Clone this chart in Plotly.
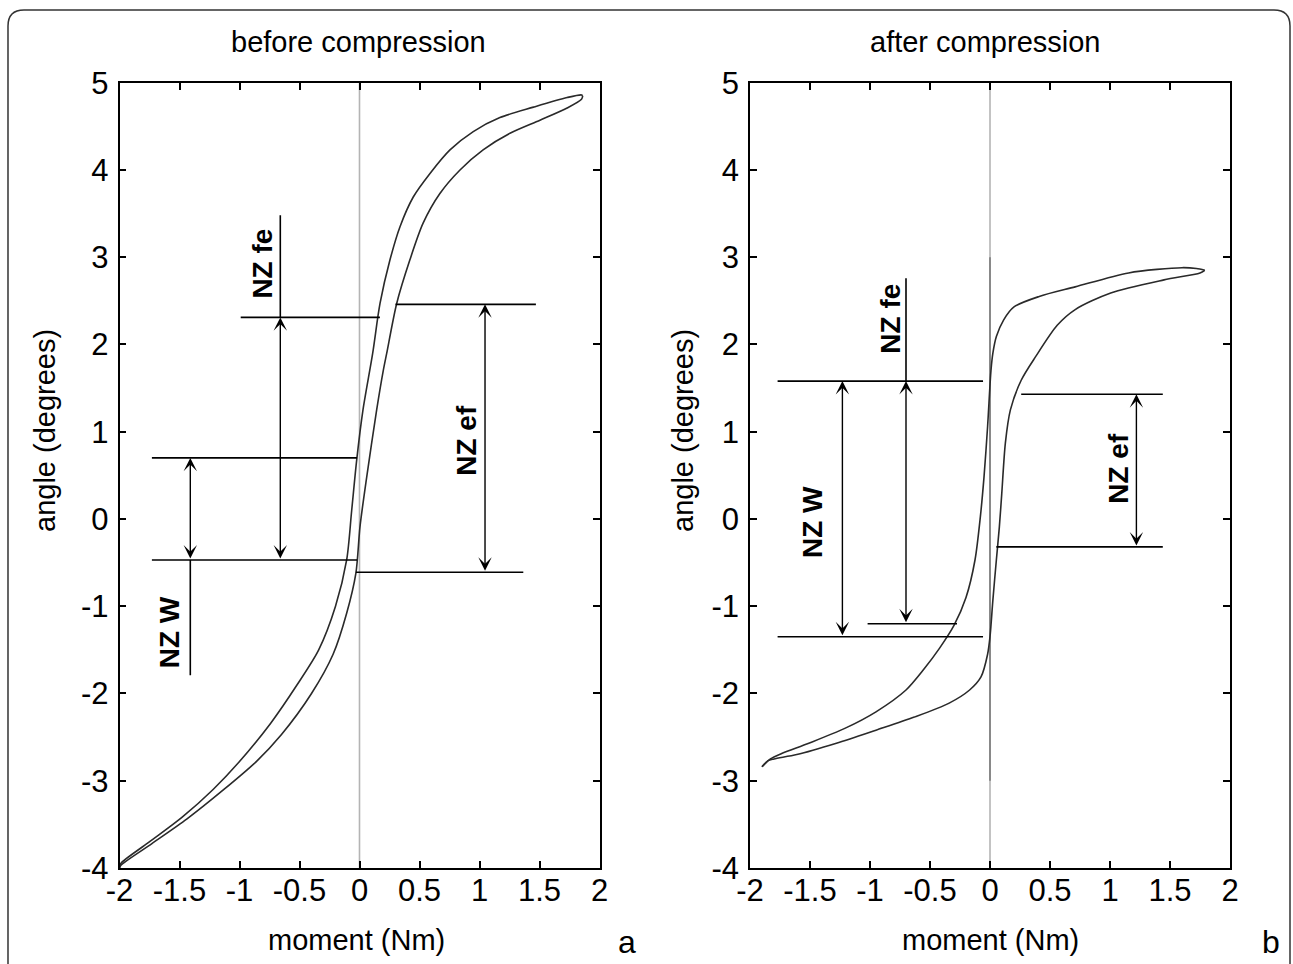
import plotly.graph_objects as go

# ---------------- data ----------------
# Panel a (before compression): loading branch (lower/right) and unloading branch (upper/left)
a_load_x = [-2.0, -1.99, -1.73, -1.44, -1.13, -0.86, -0.65, -0.40, -0.22, -0.107, -0.03, 0.004, 0.06, 0.143, 0.198, 0.227, 0.31, 0.42, 0.53, 0.67, 0.8375, 1.03, 1.254, 1.504, 1.73, 1.85, 1.86]
a_load_y = [-4.0, -3.97, -3.72, -3.44, -3.10, -2.78, -2.47, -2.00, -1.55, -1.08, -0.62, -0.09, 0.48, 1.25, 1.70, 1.90, 2.47, 2.97, 3.39, 3.73, 4.00, 4.23, 4.42, 4.57, 4.71, 4.81, 4.85]
a_unload_x = [1.86, 1.85, 1.73, 1.45, 1.17, 0.948, 0.754, 0.5875, 0.448, 0.3375, 0.254, 0.171, 0.11, 0.029, -0.023, -0.065, -0.107, -0.20, -0.34, -0.52, -0.74, -1.0, -1.22, -1.48, -1.76, -1.99, -2.0]
a_unload_y = [4.85, 4.86, 4.83, 4.72, 4.60, 4.44, 4.23, 3.96, 3.69, 3.35, 2.97, 2.47, 1.90, 1.25, 0.68, 0.10, -0.47, -1.00, -1.50, -1.90, -2.34, -2.78, -3.10, -3.42, -3.71, -3.95, -4.0]

# Panel b (after compression)
b_load_x = [-1.90, -1.85, -1.80, -1.61, -1.28, -0.95, -0.63, -0.34, -0.17, -0.075, -0.02, 0.0, 0.024, 0.053, 0.078, 0.098, 0.128, 0.17, 0.26, 0.38, 0.56, 0.71, 1.006, 1.45, 1.75, 1.79]
b_load_y = [-2.84, -2.77, -2.75, -2.70, -2.57, -2.42, -2.27, -2.11, -1.96, -1.81, -1.55, -1.35, -0.93, -0.47, -0.09, 0.29, 0.87, 1.25, 1.59, 1.86, 2.22, 2.40, 2.59, 2.74, 2.82, 2.85]
b_unload_x = [1.79, 1.72, 1.60, 1.155, 0.71, 0.41, 0.20, 0.113, 0.053, 0.024, 0.008, -0.02, -0.05, -0.08, -0.125, -0.20, -0.30, -0.42, -0.55, -0.70, -0.95, -1.21, -1.51, -1.74, -1.83, -1.90]
b_unload_y = [2.85, 2.87, 2.88, 2.82, 2.66, 2.55, 2.43, 2.28, 2.09, 1.90, 1.70, 1.06, 0.48, 0.03, -0.47, -0.90, -1.22, -1.48, -1.72, -1.96, -2.21, -2.40, -2.57, -2.69, -2.75, -2.84]

x_ticks = [-2, -1.5, -1, -0.5, 0, 0.5, 1, 1.5, 2]
x_tick_text = ["-2", "-1.5", "-1", "-0.5", "0", "0.5", "1", "1.5", "2"]
y_ticks = [-4, -3, -2, -1, 0, 1, 2, 3, 4, 5]
y_tick_text = ["-4", "-3", "-2", "-1", "0", "1", "2", "3", "4", "5"]

# neutral-zone reference lines: y level, x start, x end
a_hline_y = [0.70, -0.47, 2.31, 2.46, -0.61]
a_hline_x0 = [-1.73, -1.73, -0.99, 0.30, -0.03]
a_hline_x1 = [-0.02, -0.02, 0.17, 1.47, 1.365]
b_hline_y = [1.58, -1.35, -1.20, 1.43, -0.32]
b_hline_x0 = [-1.77, -1.77, -1.02, 0.26, 0.053]
b_hline_x1 = [-0.058, -0.058, -0.275, 1.44, 1.44]

# double arrows: x, y top, y bottom
a_arrow_x = [-1.41, -0.66, 1.046]
a_arrow_top = [0.70, 2.31, 2.46]
a_arrow_bot = [-0.47, -0.47, -0.61]
b_arrow_x = [-1.23, -0.70, 1.22]
b_arrow_top = [1.58, 1.58, 1.43]
b_arrow_bot = [-1.35, -1.20, -0.32]

# label leader extensions: x, y from, y to
a_ext_x = [-1.41, -0.66]
a_ext_y0 = [-0.47, 2.31]
a_ext_y1 = [-1.79, 3.48]
b_ext_x = [-0.70]
b_ext_y0 = [1.58]
b_ext_y1 = [2.76]

# labels
a_labels = ["NZ W", "NZ fe", "NZ ef"]
a_label_x = [-1.58, -0.81, 0.89]
a_label_y = [-1.30, 2.93, 0.90]
b_labels = ["NZ W", "NZ fe", "NZ ef"]
b_label_x = [-1.48, -0.83, 1.07]
b_label_y = [-0.03, 2.30, 0.58]

# ---------------- figure ----------------
W, H = 1293, 964
FONT = "Liberation Sans, Arial, sans-serif"
CURVE = "#2a2a2a"

fig = go.Figure()

def add_panel(xr, yr, load_x, load_y, unload_x, unload_y, hy, hx0, hx1,
              ax_x, ax_t, ax_b, ex_x, ex_y0, ex_y1, labs, lx, ly, dark_zero):
    fig.add_trace(go.Scatter(x=[0, 0], y=[-4, 5], mode="lines", xaxis=xr, yaxis=yr,
                             line=dict(color="#b4b4b4", width=1.6), hoverinfo="skip"))
    if dark_zero:
        fig.add_trace(go.Scatter(x=[0, 0], y=[-3, 3], mode="lines", xaxis=xr, yaxis=yr,
                                 line=dict(color="#7a7a7a", width=1.6), hoverinfo="skip"))
    fig.add_trace(go.Scatter(x=load_x, y=load_y, mode="lines", xaxis=xr, yaxis=yr,
                             line=dict(color=CURVE, width=1.6, shape="spline", smoothing=0.8)))
    fig.add_trace(go.Scatter(x=unload_x, y=unload_y, mode="lines", xaxis=xr, yaxis=yr,
                             line=dict(color=CURVE, width=1.6, shape="spline", smoothing=0.8)))
    for y, x0, x1 in zip(hy, hx0, hx1):
        fig.add_trace(go.Scatter(x=[x0, x1], y=[y, y], mode="lines", xaxis=xr, yaxis=yr,
                                 line=dict(color="black", width=1.6)))
    for x, y0, y1 in zip(ex_x, ex_y0, ex_y1):
        fig.add_trace(go.Scatter(x=[x, x], y=[y0, y1], mode="lines", xaxis=xr, yaxis=yr,
                                 line=dict(color="black", width=1.6)))
    for x, yt, yb in zip(ax_x, ax_t, ax_b):
        fig.add_annotation(x=x, y=yt, ax=x, ay=yb, xref=xr, yref=yr, axref=xr, ayref=yr,
                           text="", showarrow=True, arrowhead=3, startarrowhead=3,
                           arrowside="end+start", arrowsize=1.6, startarrowsize=1.6,
                           arrowwidth=1.4, arrowcolor="black", standoff=0, startstandoff=0)
    for t, x, y in zip(labs, lx, ly):
        fig.add_annotation(x=x, y=y, xref=xr, yref=yr, text="<b>%s</b>" % t, showarrow=False,
                           textangle=-90, xanchor="center", yanchor="middle",
                           font=dict(family=FONT, size=28, color="black"))

add_panel("x", "y", a_load_x, a_load_y, a_unload_x, a_unload_y, a_hline_y, a_hline_x0, a_hline_x1,
          a_arrow_x, a_arrow_top, a_arrow_bot, a_ext_x, a_ext_y0, a_ext_y1,
          a_labels, a_label_x, a_label_y, False)
add_panel("x2", "y2", b_load_x, b_load_y, b_unload_x, b_unload_y, b_hline_y, b_hline_x0, b_hline_x1,
          b_arrow_x, b_arrow_top, b_arrow_bot, b_ext_x, b_ext_y0, b_ext_y1,
          b_labels, b_label_x, b_label_y, True)

yd = [1 - 868 / H, 1 - 82.7 / H]
axis_common = dict(showline=True, linecolor="black", linewidth=1.6, mirror="ticks",
                   ticks="inside", ticklen=7, tickwidth=1.5, tickcolor="black",
                   showgrid=False, zeroline=False, automargin=False,
                   tickfont=dict(family=FONT, size=31, color="black"))

fig.update_layout(
    width=W, height=H, margin=dict(l=0, r=0, t=0, b=0, autoexpand=False),
    paper_bgcolor="white", plot_bgcolor="white", showlegend=False,
    xaxis=dict(domain=[119.5 / W, 599.5 / W], range=[-2, 2], tickvals=x_ticks, ticktext=x_tick_text,
               anchor="y", ticklabelstandoff=-6, **axis_common),
    yaxis=dict(domain=yd, range=[-4, 5], tickvals=y_ticks, ticktext=y_tick_text, anchor="x",
               ticklabelstandoff=3, **axis_common),
    xaxis2=dict(domain=[750 / W, 1230 / W], range=[-2, 2], tickvals=x_ticks, ticktext=x_tick_text,
                anchor="y2", ticklabelstandoff=-6, **axis_common),
    yaxis2=dict(domain=yd, range=[-4, 5], tickvals=y_ticks, ticktext=y_tick_text, anchor="x2",
                ticklabelstandoff=3, **axis_common),
)

def ptext(text, px, py, size=29, angle=0):
    fig.add_annotation(x=px / W, y=1 - py / H, xref="paper", yref="paper", text=text,
                       showarrow=False, textangle=angle, xanchor="center", yanchor="middle",
                       font=dict(family=FONT, size=size, color="black"))

ptext("before compression", 358, 42)
ptext("after compression", 985, 42)
ptext("angle (degrees)", 45, 431, angle=-90)
ptext("angle (degrees)", 683, 431, angle=-90)
ptext("moment (Nm)", 356, 940)
ptext("moment (Nm)", 990, 940)
ptext("a", 627, 942, size=32)
ptext("b", 1271, 942, size=32)

# outer rounded frame
r = 16
x0, x1, y0, y1 = 8, 1290, 10, 990
def P(px, py):
    return "%f,%f" % (px / W, 1 - py / H)
path = ("M " + P(x0, y1) + " L " + P(x0, y0 + r) + " Q " + P(x0, y0) + " " + P(x0 + r, y0) +
        " L " + P(x1 - r, y0) + " Q " + P(x1, y0) + " " + P(x1, y0 + r) + " L " + P(x1, y1))
fig.add_shape(type="path", path=path, xref="paper", yref="paper",
              line=dict(color="#333333", width=1.5))

fig.write_html("out.html", config={"displayModeBar": False},
               post_script="document.body.style.margin='0px';document.body.style.overflow='hidden';")
